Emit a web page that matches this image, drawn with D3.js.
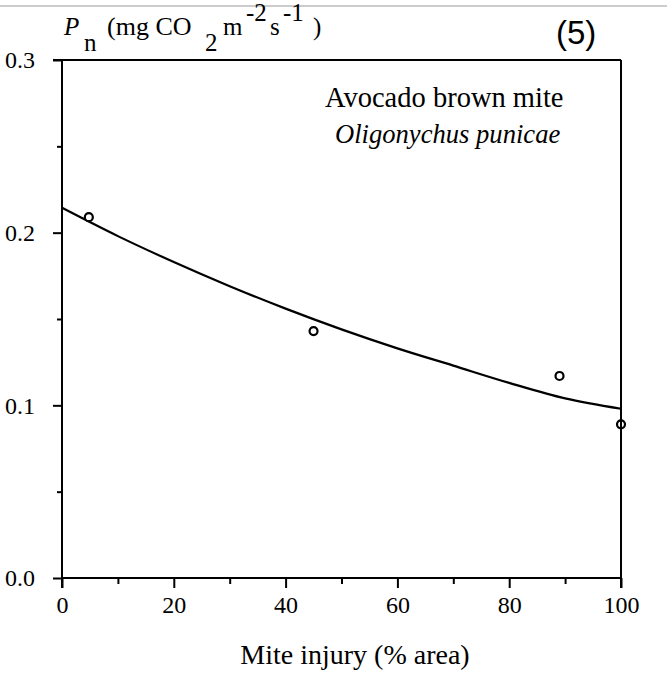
<!DOCTYPE html>
<html lang="en">
<head>
  <meta charset="UTF-8">
  <title>Mite injury vs Pn</title>
  <script src="https://d3js.org/d3.v7.min.js"></script>
  <style>
    body { margin: 0; padding: 0; background: #fff; }
    svg { display: block; font-family: "Liberation Serif", "Times New Roman", serif; }
  </style>
</head>
<body>
  <div id="chart"></div>
  <script>
    // observed points (% area injured, Pn)
    const injury = [4.8, 45, 89, 100];
    const pn = [0.209, 0.143, 0.117, 0.089];

    // fitted curve, every 10 %
    const curveX = [0, 10, 20, 30, 40, 50, 60, 70, 80, 90, 100];
    const curveY = [0.2144, 0.198, 0.183, 0.169, 0.156, 0.144, 0.133, 0.123, 0.113, 0.104, 0.098];

    const xTicks = [0, 20, 40, 60, 80, 100];
    const yTicks = [0.0, 0.1, 0.2, 0.3];

    const width = 667, height = 676;
    const margin = { top: 60, right: 46, bottom: 98, left: 62 };

    const svg = d3.select("#chart").append("svg")
      .attr("width", width)
      .attr("height", height);

    const x = d3.scaleLinear().domain([0, 100]).range([margin.left, width - margin.right]);
    const y = d3.scaleLinear().domain([0, 0.3]).range([height - margin.bottom, margin.top]);

    // thin grey rule along the top of the page
    svg.append("line")
      .attr("x1", 0).attr("x2", width)
      .attr("y1", 6).attr("y2", 6)
      .attr("stroke", "#999").attr("stroke-width", 1);

    // fitted curve
    const line = d3.line()
      .x((d, i) => x(curveX[i]))
      .y(d => y(d))
      .curve(d3.curveMonotoneX);
    svg.append("path")
      .datum(curveY)
      .attr("d", line)
      .attr("fill", "none")
      .attr("stroke", "#000")
      .attr("stroke-width", 2.2);

    // observed points
    svg.selectAll("circle.pt")
      .data(injury)
      .join("circle")
      .attr("class", "pt")
      .attr("cx", d => x(d))
      .attr("cy", (d, i) => y(pn[i]))
      .attr("r", 4)
      .attr("fill", "#fff")
      .attr("stroke", "#000")
      .attr("stroke-width", 2.2);

    // top and right frame
    svg.append("line")
      .attr("x1", x(0) - 9).attr("x2", x(100))
      .attr("y1", y(0.3)).attr("y2", y(0.3))
      .attr("stroke", "#000").attr("stroke-width", 2);
    svg.append("line")
      .attr("x1", x(100)).attr("x2", x(100))
      .attr("y1", y(0.3)).attr("y2", y(0) + 10)
      .attr("stroke", "#000").attr("stroke-width", 2);

    const xAxis = svg.append("g")
      .attr("transform", `translate(0,${y(0)})`)
      .call(d3.axisBottom(x).tickValues(xTicks).tickFormat(d3.format("d")).tickSize(10).tickPadding(8));
    svg.append("g")
      .attr("transform", `translate(0,${y(0)})`)
      .call(d3.axisBottom(x).tickValues([10, 30, 50, 70, 90]).tickFormat("").tickSize(6))
      .select(".domain").remove();

    const yAxis = svg.append("g")
      .attr("transform", `translate(${x(0)},0)`)
      .call(d3.axisLeft(y).tickValues(yTicks).tickFormat(d3.format(".1f")).tickSize(9).tickPadding(18));
    svg.append("g")
      .attr("transform", `translate(${x(0)},0)`)
      .call(d3.axisLeft(y).tickValues([0.05, 0.15, 0.25]).tickFormat("").tickSize(5))
      .select(".domain").remove();

    svg.selectAll(".domain").attr("stroke-width", 2);
    svg.selectAll(".tick line").attr("stroke-width", 2);
    svg.selectAll(".tick text")
      .style("font-family", "Liberation Serif, serif")
      .style("font-size", "24px")
      .attr("fill", "#000");
    xAxis.select(".domain").attr("d", `M${x(0)},0H${x(100)}`);
    yAxis.select(".domain").attr("d", `M0,${y(0) + 10}V${y(0.3)}`);

    // y label: Pn (mg CO2 m-2 s-1)
    const yl = svg.append("text")
      .attr("y", 35)
      .style("font-size", "25px");
    yl.append("tspan").attr("x", 64).style("font-style", "italic").text("P");
    yl.append("tspan").attr("x", 84).attr("dy", 16).text("n");
    yl.append("tspan").attr("x", 107).attr("dy", -16).style("font-size", "26px").text("(mg CO");
    yl.append("tspan").attr("x", 205).attr("dy", 16).text("2");
    yl.append("tspan").attr("x", 223).attr("dy", -16).text("m");
    yl.append("tspan").attr("x", 246).attr("dy", -14).text("-2");
    yl.append("tspan").attr("x", 270).attr("dy", 14).text("s");
    yl.append("tspan").attr("x", 283).attr("dy", -14).text("-1");
    yl.append("tspan").attr("x", 313).attr("dy", 14).text(")");

    svg.append("text")
      .attr("x", 556).attr("y", 44)
      .style("font-family", "Liberation Sans, Arial, sans-serif")
      .style("font-size", "33px")
      .text("(5)");

    // annotation
    svg.append("text")
      .attr("x", 325).attr("y", 107)
      .style("font-size", "28.5px")
      .text("Avocado brown mite");
    svg.append("text")
      .attr("x", 335).attr("y", 143)
      .style("font-size", "26.6px")
      .style("font-style", "italic")
      .text("Oligonychus punicae");

    // x label
    svg.append("text")
      .attr("x", 355).attr("y", 664)
      .attr("text-anchor", "middle")
      .style("font-size", "28px")
      .text("Mite injury (% area)");
  </script>
</body>
</html>
